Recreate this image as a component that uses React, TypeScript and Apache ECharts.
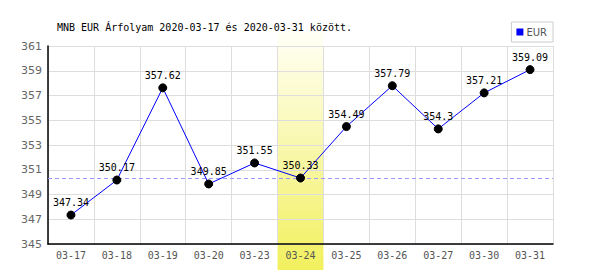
import React, { useEffect, useRef } from "react";
import * as echarts from "echarts";

const categories = ["03-17", "03-18", "03-19", "03-20", "03-23", "03-24", "03-25", "03-26", "03-27", "03-30", "03-31"];
const eurValues = [347.34, 350.17, 357.62, 349.85, 351.55, 350.33, 354.49, 357.79, 354.3, 357.21, 359.09];
const yTicks = [345, 347, 349, 351, 353, 355, 357, 359, 361];
const highlightIndex = 5;
const referenceValue = 350.33;
const titleText = "MNB EUR Árfolyam 2020-03-17 és 2020-03-31 között.";

export default function App() {
  const ref = useRef<HTMLDivElement>(null);
  useEffect(() => {
    if (!ref.current) return;
    const chart = echarts.init(ref.current, null, { renderer: "svg" });
    chart.setOption({
      animation: false,
      title: {
        text: titleText,
        left: 52,
        top: 17,
        textStyle: { fontFamily: "DejaVu Sans Mono", fontSize: 10, fontWeight: "normal", color: "#000" },
      },
      legend: {
        right: 47,
        top: 22,
        data: ["EUR"],
        icon: "rect",
        itemWidth: 7,
        itemHeight: 7,
        itemGap: 2,
        borderColor: "#ccc",
        borderWidth: 1,
        padding: [5, 6, 5, 5],
        textStyle: { fontFamily: "DejaVu Sans", fontSize: 10, color: "#555", padding: [0, 0, 0, -2] },
      },
      grid: { left: 48, right: 47, top: 46, bottom: 26 },
      xAxis: {
        type: "category",
        data: categories,
        boundaryGap: true,
        axisLine: { lineStyle: { color: "#000", width: 1.5 } },
        axisTick: { show: false },
        axisLabel: { fontFamily: "DejaVu Sans Mono", fontSize: 10, color: "#555", margin: 6, interval: 0 },
        splitLine: { show: true, interval: 0, lineStyle: { color: "#ddd", width: 1 } },
      },
      yAxis: {
        type: "value",
        min: 345,
        max: 361,
        axisLine: { show: true, lineStyle: { color: "#000", width: 1.5 } },
        axisTick: { show: false, customValues: yTicks },
        axisLabel: { customValues: yTicks, fontFamily: "DejaVu Sans", fontSize: 11, color: "#666", margin: 6 },
        splitLine: { show: true, lineStyle: { color: "#ddd", width: 1 } },
      },
      series: [
        {
          name: "EUR",
          type: "line",
          data: eurValues,
          z: 5,
          lineStyle: { color: "#0000ff", width: 1 },
          itemStyle: { color: "#0000ff" },
          symbol: "circle",
          symbolSize: 8,
          label: {
            show: true,
            position: "top",
            distance: 3,
            fontFamily: "DejaVu Sans Mono",
            fontSize: 10,
            color: "#000",
          },
          markLine: {
            silent: true,
            symbol: "none",
            label: { show: false },
            lineStyle: { color: "#9999ff", type: [4, 3], width: 1 },
            data: [{ yAxis: referenceValue }],
          },
        },
      ],
    });
    // black point markers drawn on top via emphasis-independent item style
    chart.setOption({
      series: [{ itemStyle: { color: "#000", borderColor: "#000" }, lineStyle: { color: "#0000ff" } }],
      legend: { data: [{ name: "EUR", itemStyle: { color: "#0000ff" } }] },
    });
    const c0 = chart.convertToPixel({ xAxisIndex: 0 }, highlightIndex) as number;
    const c1 = chart.convertToPixel({ xAxisIndex: 0 }, highlightIndex + 1) as number;
    const bw = c1 - c0;
    chart.setOption({
      graphic: [
        {
          type: "rect",
          z: -10,
          silent: true,
          shape: { x: c0 - bw / 2, y: 32, width: bw, height: 270 - 32 },
          style: {
            fill: new echarts.graphic.LinearGradient(0, 0, 0, 1, [
              { offset: 0, color: "#fffff6" },
              { offset: 1, color: "#f2f05e" },
            ]),
          },
        },
      ],
    });
    return () => chart.dispose();
  }, []);
  return <div ref={ref} style={{ width: 600, height: 270, position: "absolute", left: 0, top: 0 }} />;
}
